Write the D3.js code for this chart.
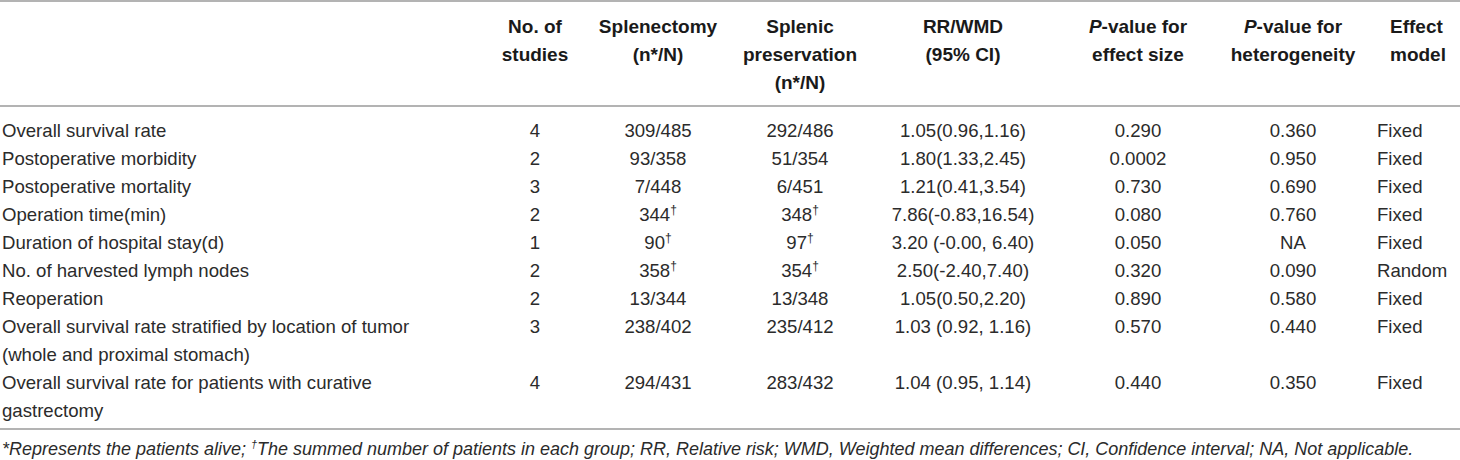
<!DOCTYPE html>
<html>
<head>
<meta charset="utf-8">
<style>
  body { margin: 0; background: #fff; }
  svg text { font-family: "Liberation Sans", Arial, Helvetica, sans-serif; }
</style>
</head>
<body>
<div id="chart_container"></div>
<script src="https://cdn.jsdelivr.net/npm/d3@7"></script>
<script>

// table data
const columns = ['label', 'studies', 'splenectomy', 'preservation', 'rr', 'pEffect', 'pHet', 'model']

const headers = [
  [],
  ['No. of', 'studies'],
  ['Splenectomy', '(n*/N)'],
  ['Splenic', 'preservation', '(n*/N)'],
  ['RR/WMD', '(95% CI)'],
  ['P-value for', 'effect size'],
  ['P-value for', 'heterogeneity'],
  ['Effect', 'model']
]

const outcomes = [
  ['Overall survival rate'],
  ['Postoperative morbidity'],
  ['Postoperative mortality'],
  ['Operation time(min)'],
  ['Duration of hospital stay(d)'],
  ['No. of harvested lymph nodes'],
  ['Reoperation'],
  ['Overall survival rate stratified by location of tumor', '(whole and proximal stomach)'],
  ['Overall survival rate for patients with curative', 'gastrectomy']
]
const studies = ['4', '2', '3', '2', '1', '2', '2', '3', '4']
const splenectomy = ['309/485', '93/358', '7/448', '344†', '90†', '358†', '13/344', '238/402', '294/431']
const preservation = ['292/486', '51/354', '6/451', '348†', '97†', '354†', '13/348', '235/412', '283/432']
const rrWmd = ['1.05(0.96,1.16)', '1.80(1.33,2.45)', '1.21(0.41,3.54)', '7.86(-0.83,16.54)', '3.20 (-0.00, 6.40)',
  '2.50(-2.40,7.40)', '1.05(0.50,2.20)', '1.03 (0.92, 1.16)', '1.04 (0.95, 1.14)']
const pEffect = ['0.290', '0.0002', '0.730', '0.080', '0.050', '0.320', '0.890', '0.570', '0.440']
const pHet = ['0.360', '0.950', '0.690', '0.760', 'NA', '0.090', '0.580', '0.440', '0.350']
const model = ['Fixed', 'Fixed', 'Fixed', 'Fixed', 'Fixed', 'Random', 'Fixed', 'Fixed', 'Fixed']

const footnote = '*Represents the patients alive; †The summed number of patients in each group; RR, Relative risk; WMD, Weighted mean differences; CI, Confidence interval; NA, Not applicable.'

const width = 1460
const height = 460

// column positions
const colX = d3.scaleOrdinal()
  .domain(columns)
  .range([2, 535, 658, 800, 963, 1138, 1293, 1377])
const colAnchor = d3.scaleOrdinal()
  .domain(columns)
  .range(['start', 'middle', 'middle', 'middle', 'middle', 'middle', 'middle', 'start'])

// line index -> baseline
const headY = d3.scaleLinear().domain([0, 1]).range([33, 61])
const rowY = d3.scaleLinear().domain([0, 1]).range([137, 165])

const svg = d3.select('#chart_container')
  .append('svg')
  .attr('width', width)
  .attr('height', height)

// put a string into a text element: † as superscript, leading "P-" in italics
function rich(sel, str, supSize) {
  const parts = str.split('†')
  let back = 0
  parts.forEach((p, i) => {
    if (i > 0) {
      sel.append('tspan').attr('font-size', supSize).attr('dy', -7).text('†')
      back = 7
    }
    if (!p.length) return
    if (p.startsWith('P-')) {
      sel.append('tspan').attr('font-style', 'italic').attr('dy', back).text('P')
      sel.append('tspan').text(p.slice(1))
    } else {
      sel.append('tspan').attr('dy', back).text(p)
    }
    back = 0
  })
}

// rules
const rules = [1, 106, 429]
svg.selectAll('line.rule')
  .data(rules)
  .enter()
  .append('line')
  .attr('class', 'rule')
  .attr('x1', 0)
  .attr('x2', width)
  .attr('y1', d => d)
  .attr('y2', d => d)
  .attr('stroke', '#9a9a9a')
  .attr('stroke-width', 1.6)

// header
headers.forEach((lines, c) => {
  const key = columns[c]
  lines.forEach((ln, k) => {
    const t = svg.append('text')
      .attr('x', key === 'model' ? 1390 : colX(key))
      .attr('y', headY(k))
      .attr('text-anchor', key === 'model' ? 'start' : colAnchor(key))
      .attr('font-size', 19)
      .attr('font-weight', 'bold')
      .attr('fill', '#1a1a1a')
    rich(t, ln, 12)
  })
})

// body
const rows = outcomes.map((o, i) => ({
  label: o,
  studies: studies[i],
  splenectomy: splenectomy[i],
  preservation: preservation[i],
  rr: rrWmd[i],
  pEffect: pEffect[i],
  pHet: pHet[i],
  model: model[i]
}))

let line = 0
rows.forEach(r => {
  columns.forEach(key => {
    const vals = key === 'label' ? r.label : [r[key]]
    vals.forEach((v, k) => {
      const t = svg.append('text')
        .attr('x', colX(key))
        .attr('y', rowY(line + k))
        .attr('text-anchor', colAnchor(key))
        .attr('font-size', 18.6)
        .attr('fill', '#2b2b2b')
      rich(t, v, 12)
    })
  })
  line += r.label.length
})

// footnote, fitted to the table width
const fn = svg.append('text')
  .attr('x', 2)
  .attr('y', 455)
  .attr('font-size', 16)
  .attr('font-style', 'italic')
  .attr('fill', '#2b2b2b')
rich(fn, footnote, 11)
const len = fn.node().getComputedTextLength()
fn.attr('font-size', 16 * 1413 / len)

</script>
</body>
</html>
